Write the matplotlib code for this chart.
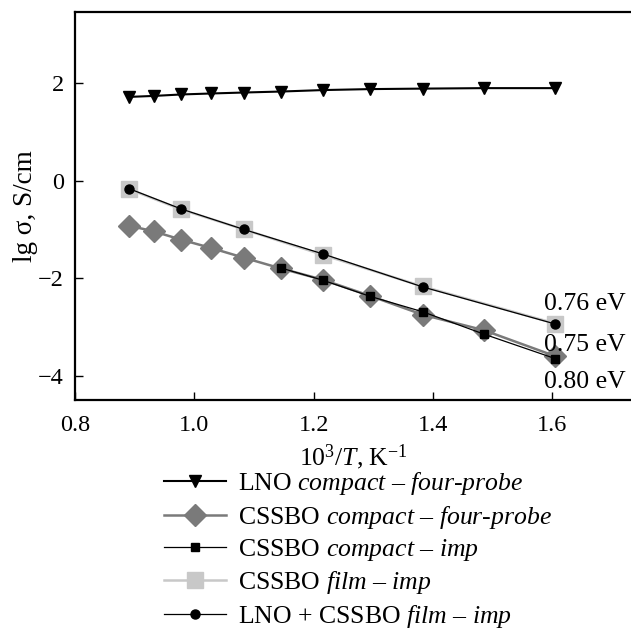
# Arrhenius plot of conductivity: LNO / CSSBO compacts and films
import matplotlib
matplotlib.use('Agg')
import matplotlib.pyplot as plt

plt.rcParams['font.family'] = 'Liberation Serif'
plt.rcParams['mathtext.fontset'] = 'custom'
plt.rcParams['mathtext.rm'] = 'Liberation Serif'
plt.rcParams['mathtext.it'] = 'Liberation Serif:italic'
plt.rcParams['font.size'] = 17

# 10^3/T, K^-1
x_all = [0.890, 0.932, 0.978, 1.028, 1.083, 1.145, 1.215, 1.294, 1.383, 1.486, 1.605]
x_film = [0.890, 0.978, 1.083, 1.215, 1.383, 1.605]
x_imp = [1.145, 1.215, 1.294, 1.383, 1.486, 1.605]

# lg sigma, S/cm
lno_compact = [1.72, 1.74, 1.77, 1.79, 1.81, 1.83, 1.86, 1.88, 1.89, 1.90, 1.90]
cssbo_compact_4p = [-0.92, -1.04, -1.21, -1.38, -1.58, -1.80, -2.03, -2.36, -2.75, -3.07, -3.60]
cssbo_compact_imp = [-1.79, -2.04, -2.37, -2.69, -3.15, -3.65]
cssbo_film_imp = [-0.17, -0.59, -1.00, -1.52, -2.17, -2.93]
lno_cssbo_film_imp = [-0.16, -0.58, -1.00, -1.50, -2.18, -2.94]

labels = [
    'LNO $\\mathit{compact}$ $\\mathit{–}$ $\\mathit{four}$-$\\mathit{probe}$',
    'CSSBO $\\mathit{compact}$ $\\mathit{–}$ $\\mathit{four}$-$\\mathit{probe}$',
    'CSSBO $\\mathit{compact}$ $\\mathit{–}$ $\\mathit{imp}$',
    'CSSBO $\\mathit{film}$ $\\mathit{–}$ $\\mathit{imp}$',
    'LNO + CSSBO $\\mathit{film}$ $\\mathit{–}$ $\\mathit{imp}$',
]
energies = ['0.76 eV', '0.75 eV', '0.80 eV']
energy_y = [-2.52, -3.38, -4.12]

fig = plt.figure(figsize=(6.31, 6.37), dpi=100)
ax = fig.add_axes([0.119, 0.372, 0.881, 0.609])

ax.plot(x_all, lno_compact, color='black', lw=1.5, marker='v', ms=9, label=labels[0])
ax.plot(x_all, cssbo_compact_4p, color='#7a7a7a', lw=1.8, marker='D', ms=11, label=labels[1])
ax.plot(x_film, cssbo_film_imp, color='#c8c8c8', lw=1.8, marker='s', ms=11, label=labels[3])
ax.plot(x_imp, cssbo_compact_imp, color='black', lw=0.9, marker='s', ms=6, label=labels[2])
ax.plot(x_film, lno_cssbo_film_imp, color='black', lw=0.9, marker='o', ms=6.5, label=labels[4])

for txt, yy in zip(energies, energy_y):
    ax.text(1.586, yy, txt, ha='left', va='center', fontsize=18.5)

ax.set_xlim(0.8, 1.732)
ax.set_ylim(-4.5, 3.46)
ax.set_xticks([0.8, 1.0, 1.2, 1.4, 1.6])
ax.set_xticklabels(['0.8', '1.0', '1.2', '1.4', '1.6'])
ax.set_yticks([-4, -2, 0, 2])
ax.set_yticklabels(['\u22124', '\u22122', '0', '2'])
ax.tick_params(direction='in', length=6, width=1, labelsize=17.5)
ax.tick_params(axis='x', pad=10.5)
ax.tick_params(axis='y', pad=8)
ax.spines['right'].set_visible(False)
for s in ['left', 'top', 'bottom']:
    ax.spines[s].set_linewidth(1.6)

ax.set_xlabel('10$^3$/$\\mathit{T}$, K$^{\\mathregular{\u2212}1}$', fontsize=18.5, labelpad=5)
ax.set_ylabel('lg \u03c3, S/cm', fontsize=19.5, labelpad=0)

handles, labs = ax.get_legend_handles_labels()
order = [0, 1, 3, 2, 4]
fig.legend([handles[i] for i in order], [labs[i] for i in order],
           loc='upper left', bbox_to_anchor=(0.26, 0.262), frameon=False,
           numpoints=1, handlelength=2.4, handletextpad=0.46, labelspacing=0.25,
           borderpad=0, borderaxespad=0, fontsize=18.5)

fig.savefig('out.png', dpi=100)
